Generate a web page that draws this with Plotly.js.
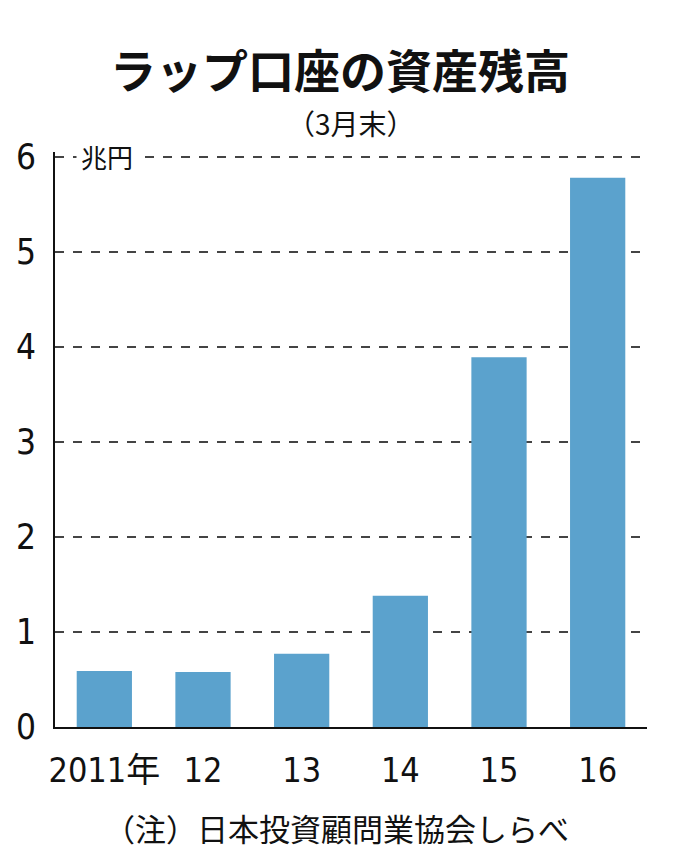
<!DOCTYPE html>
<html>
<head>
<meta charset="utf-8">
<script src="https://cdn.plot.ly/plotly-3.0.1.min.js"></script>
<style>
  body { margin: 0; background: #fff; }
  #chart { width: 680px; height: 860px; }
</style>
</head>
<body>
<div id="chart"></div>
<script>
const years = ['2011年', '12', '13', '14', '15', '16']
const balances = [0.59, 0.58, 0.77, 1.38, 3.89, 5.78]
const yTicks = [0, 1, 2, 3, 4, 5, 6]

const font = '"Liberation Sans Narrow", "DejaVu Sans Condensed", "Liberation Sans", "Noto Sans CJK JP", sans-serif'
const jpFont = '"Noto Sans CJK JP", sans-serif'

Plotly.newPlot(
  'chart',
  [
    {
      x: years,
      y: balances,
      type: 'bar',
      marker: { color: '#5ba2cd' },
      hoverinfo: 'none'
    }
  ],
  {
    width: 680,
    height: 860,
    margin: { l: 55, r: 33, t: 152, b: 133 },
    paper_bgcolor: '#fff',
    plot_bgcolor: '#fff',
    bargap: 0.44,
    showlegend: false,
    title: {
      text: '<b>ラップ口座の資産残高</b>',
      font: { family: jpFont, size: 46, color: '#111' },
      x: 0.5,
      xanchor: 'center',
      y: 0.916,
      yanchor: 'middle'
    },
    xaxis: {
      type: 'category',
      showline: true,
      linecolor: '#111',
      linewidth: 2,
      ticks: '',
      ticklabelstandoff: 12,
      tickfont: { family: font, size: 34, color: '#111' },
      showgrid: false,
      fixedrange: true
    },
    yaxis: {
      range: [0, 6.05],
      tickvals: yTicks,
      showline: true,
      linecolor: '#111',
      linewidth: 2,
      ticks: '',
      ticklabelstandoff: 10,
      tickfont: { family: font, size: 35, color: '#111' },
      showgrid: true,
      gridcolor: '#444',
      gridwidth: 1.5,
      griddash: 'dash',
      zeroline: false,
      fixedrange: true
    },
    annotations: [
      {
        text: '（3月末）',
        xref: 'paper',
        yref: 'paper',
        x: 0.5,
        y: 1.05,
        xanchor: 'center',
        yanchor: 'middle',
        showarrow: false,
        font: { family: jpFont, size: 28, color: '#111' }
      },
      {
        text: '兆円',
        xref: 'paper',
        yref: 'y',
        x: 0.035,
        y: 6,
        xanchor: 'left',
        yanchor: 'middle',
        showarrow: false,
        bgcolor: '#fff',
        borderpad: 4,
        font: { family: jpFont, size: 26, color: '#111' }
      },
      {
        text: '（注）日本投資顧問業協会しらべ',
        xref: 'paper',
        yref: 'paper',
        x: 0.475,
        y: -0.175,
        xanchor: 'center',
        yanchor: 'middle',
        showarrow: false,
        font: { family: jpFont, size: 31, color: '#111' }
      }
    ]
  },
  { staticPlot: true, displayModeBar: false }
)
</script>
</body>
</html>
